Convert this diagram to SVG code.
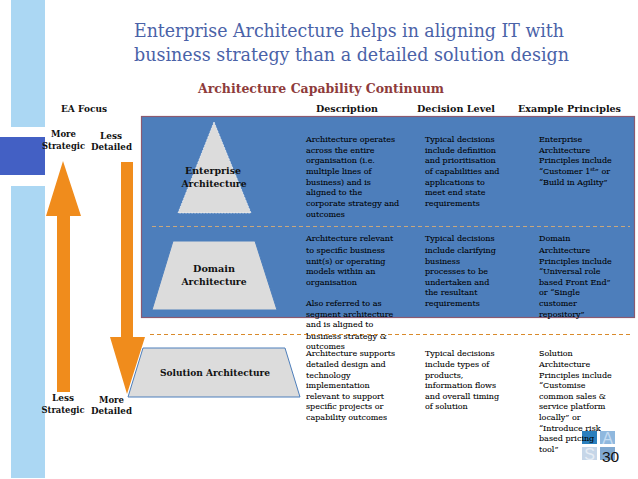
<svg xmlns="http://www.w3.org/2000/svg" width="638" height="479" viewBox="0 0 638 479">
<style>
text{font-family:"DejaVu Serif","Liberation Serif",serif;fill:#111}
.t{font-size:18.500px;fill:#4a62a8}
.s{font-size:12.5px;font-weight:bold;fill:#8e3b3b}
.h{font-size:10px;font-weight:bold}
.l{font-size:9.2px;font-weight:bold}
.b{font-size:8px;fill:#000;stroke:#000;stroke-width:.08}
.n{font-family:"Liberation Sans",sans-serif}
.tile{font-family:"Liberation Sans",sans-serif;font-size:16px;text-anchor:middle}
</style>
<rect width="638" height="479" fill="#fff"/>
<g id="sidebar">
<rect x="11" y="0" width="34" height="127" fill="#abd7f3"/>
<rect x="0" y="137" width="45" height="38" fill="#4360c4"/>
<rect x="11" y="186" width="34" height="292" fill="#abd7f3"/>
</g>
<g id="title">
<text class="t" x="134" y="37" textLength="430" lengthAdjust="spacingAndGlyphs">Enterprise Architecture helps in aligning IT with</text>
<text class="t" x="134" y="60.500" textLength="435" lengthAdjust="spacingAndGlyphs">business strategy than a detailed solution design</text>
<text class="s" x="198" y="93" textLength="246" lengthAdjust="spacingAndGlyphs">Architecture Capability Continuum</text>
</g>
<g id="headers">
<text class="h" x="61" y="112" textLength="46" lengthAdjust="spacingAndGlyphs">EA Focus</text>
<text class="h" x="316" y="112" textLength="62" lengthAdjust="spacingAndGlyphs">Description</text>
<text class="h" x="417" y="112" textLength="78" lengthAdjust="spacingAndGlyphs">Decision Level</text>
<text class="h" x="518" y="112" textLength="103" lengthAdjust="spacingAndGlyphs">Example Principles</text>
</g>
<g id="panel"><rect x="141.500" y="116.500" width="493" height="201" fill="#4d7ebb" stroke="#8c5a70" stroke-width="1.200"/></g>
<g id="connectors">
<line x1="152" y1="226.500" x2="630" y2="226.500" stroke="#c9a77c" stroke-width="1" stroke-dasharray="4 3"/>
<line x1="150" y1="334.500" x2="630" y2="334.500" stroke="#d98a2b" stroke-width="1" stroke-dasharray="4 3"/>
<polygon points="63,161 81,216 70,216 70,392 57,392 57,216 46,216" fill="#f08c1c"/>
<polygon points="121,162 133,162 133,337 145,337 127,394 110,337 121,337" fill="#f08c1c"/>
</g>
<g id="enterprise">
<polygon points="214,122 251,213 178,213" fill="#dcdcdc" stroke="#fff" stroke-dasharray="2 1" stroke-width=".6"/>
<text class="l" x="213" y="174" text-anchor="middle" textLength="56" lengthAdjust="spacingAndGlyphs">Enterprise</text>
<text class="l" x="214" y="187" text-anchor="middle" textLength="65" lengthAdjust="spacingAndGlyphs">Architecture</text>
</g>
<g id="domain">
<polygon points="173,241 255,241 277,310 152,310" fill="#dcdcdc" stroke="#4d7ebb"/>
<text class="l" x="214" y="272" text-anchor="middle" textLength="42" lengthAdjust="spacingAndGlyphs">Domain</text>
<text class="l" x="214" y="285" text-anchor="middle" textLength="65" lengthAdjust="spacingAndGlyphs">Architecture</text>
</g>
<g id="solution">
<polygon points="143,348 285,348 300,397 128,397" fill="#dcdcdc" stroke="#4d7ebb"/>
<text class="l" x="215" y="376" text-anchor="middle" textLength="110" lengthAdjust="spacingAndGlyphs">Solution Architecture</text>
</g>
<g id="focus">
<text class="l" x="63.500" y="137" text-anchor="middle" textLength="25" lengthAdjust="spacingAndGlyphs">More</text>
<text class="l" x="63.500" y="149" text-anchor="middle" textLength="43" lengthAdjust="spacingAndGlyphs">Strategic</text>
<text class="l" x="111" y="139" text-anchor="middle" textLength="22" lengthAdjust="spacingAndGlyphs">Less</text>
<text class="l" x="111.500" y="150" text-anchor="middle" textLength="41" lengthAdjust="spacingAndGlyphs">Detailed</text>
<text class="l" x="63" y="401" text-anchor="middle" textLength="22" lengthAdjust="spacingAndGlyphs">Less</text>
<text class="l" x="63" y="413" text-anchor="middle" textLength="43" lengthAdjust="spacingAndGlyphs">Strategic</text>
<text class="l" x="111.500" y="403" text-anchor="middle" textLength="25" lengthAdjust="spacingAndGlyphs">More</text>
<text class="l" x="111.500" y="414" text-anchor="middle" textLength="41" lengthAdjust="spacingAndGlyphs">Detailed</text>
</g>
<g id="description">
<text class="b" x="306" y="142">Architecture operates</text>
<text class="b" x="306" y="153">across the entire</text>
<text class="b" x="306" y="163">organisation (i.e.</text>
<text class="b" x="306" y="174">multiple lines of</text>
<text class="b" x="306" y="185">business) and is</text>
<text class="b" x="306" y="195">aligned to the</text>
<text class="b" x="306" y="206">corporate strategy and</text>
<text class="b" x="306" y="217">outcomes</text>
<text class="b" x="306" y="241">Architecture relevant</text>
<text class="b" x="306" y="253">to specific business</text>
<text class="b" x="306" y="264">unit(s) or operating</text>
<text class="b" x="306" y="274">models within an</text>
<text class="b" x="306" y="285">organisation</text>
<text class="b" x="306" y="306">Also referred to as</text>
<text class="b" x="306" y="317">segment architecture</text>
<text class="b" x="306" y="327">and is aligned to</text>
<text class="b" x="306" y="339">business strategy &amp;</text>
<text class="b" x="306" y="349">outcomes</text>
<text class="b" x="306" y="356">Architecture supports</text>
<text class="b" x="306" y="367">detailed design and</text>
<text class="b" x="306" y="378">technology</text>
<text class="b" x="306" y="388">implementation</text>
<text class="b" x="306" y="399">relevant to support</text>
<text class="b" x="306" y="409">specific projects or</text>
<text class="b" x="306" y="420">capability outcomes</text>
</g>
<g id="decision">
<text class="b" x="425" y="142">Typical decisions</text>
<text class="b" x="425" y="153">include definition</text>
<text class="b" x="425" y="163">and prioritisation</text>
<text class="b" x="425" y="174">of capabilities and</text>
<text class="b" x="425" y="185">applications to</text>
<text class="b" x="425" y="195">meet end state</text>
<text class="b" x="425" y="206">requirements</text>
<text class="b" x="425" y="241">Typical decisions</text>
<text class="b" x="425" y="253">include clarifying</text>
<text class="b" x="425" y="264">business</text>
<text class="b" x="425" y="274">processes to be</text>
<text class="b" x="425" y="285">undertaken and</text>
<text class="b" x="425" y="295">the resultant</text>
<text class="b" x="425" y="306">requirements</text>
<text class="b" x="425" y="356">Typical decisions</text>
<text class="b" x="425" y="367">include types of</text>
<text class="b" x="425" y="378">products,</text>
<text class="b" x="425" y="388">information flows</text>
<text class="b" x="425" y="399">and overall timing</text>
<text class="b" x="425" y="409">of solution</text>
</g>
<g id="tiles">
<rect x="582" y="431" width="15" height="13" fill="#2a7fbd"/>
<rect x="600" y="431" width="15" height="13" fill="#8fb8de"/>
<text class="tile" x="607.500" y="443.500" style="fill:#c4dcf2">A</text>
<rect x="582" y="447" width="15" height="13" fill="#c6d6e8"/>
<text class="tile" x="589.500" y="459.500" style="fill:#e6edf5">S</text>
<rect x="600" y="447" width="15" height="13" fill="#7fa8d0"/>
</g>
<g id="principles">
<text class="b" x="539" y="142">Enterprise</text>
<text class="b" x="539" y="153">Architecture</text>
<text class="b" x="539" y="163">Principles include</text>
<text class="b" x="539" y="174">“Customer 1<tspan font-size="5" dy="-3">st</tspan><tspan dy="3">” or</tspan></text>
<text class="b" x="539" y="185">“Build in Agility”</text>
<text class="b" x="539" y="241">Domain</text>
<text class="b" x="539" y="253">Architecture</text>
<text class="b" x="539" y="264">Principles include</text>
<text class="b" x="539" y="274">“Universal role</text>
<text class="b" x="539" y="285">based Front End”</text>
<text class="b" x="539" y="295">or “Single</text>
<text class="b" x="539" y="306">customer</text>
<text class="b" x="539" y="317">repository”</text>
<text class="b" x="539" y="356">Solution</text>
<text class="b" x="539" y="367">Architecture</text>
<text class="b" x="539" y="378">Principles include</text>
<text class="b" x="539" y="388">“Customise</text>
<text class="b" x="539" y="399">common sales &amp;</text>
<text class="b" x="539" y="409">service platform</text>
<text class="b" x="539" y="420">locally” or</text>
<text class="b" x="539" y="431">“Introduce risk</text>
<text class="b" x="539" y="441">based pricing</text>
<text class="b" x="539" y="452">tool”</text>
</g>
<text id="page" class="n" x="610.500" y="462" text-anchor="middle" font-size="15.500">30</text>
</svg>
